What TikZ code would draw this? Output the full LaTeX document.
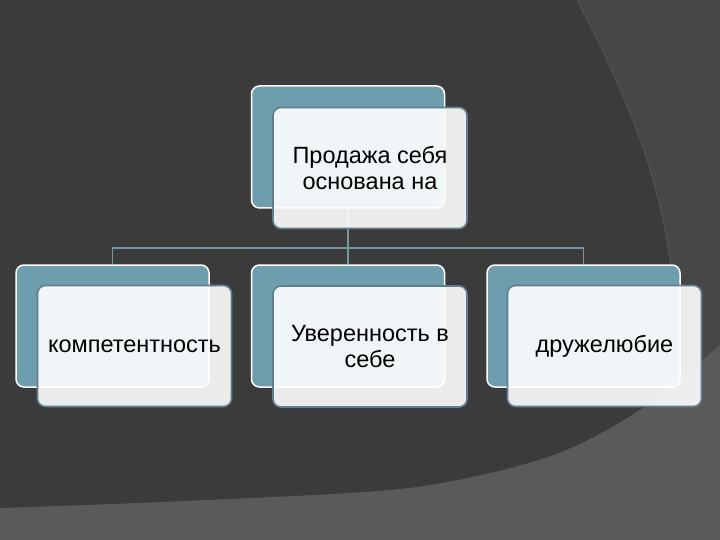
\documentclass[tikz,border=0pt]{standalone}
\usepackage{fontspec}
\setmainfont{Liberation Sans}
\usepackage{tikz}
\usetikzlibrary{positioning,calc}

\definecolor{slate}{HTML}{3B3B3B}
\definecolor{slateband}{HTML}{474747}
\definecolor{slateedge}{HTML}{515151}
\definecolor{slatelow}{HTML}{5A5A5A}
\definecolor{tealback}{HTML}{6E9DAE}
\definecolor{cardline}{HTML}{5F7F8E}
\definecolor{linkgray}{HTML}{7597A0}

\begin{document}
\begin{tikzpicture}[x=1pt, y=-1pt,
  back/.style={fill=tealback, draw=white, line width=1.5pt, rounded corners=8pt,
    minimum width=193pt, minimum height=122pt, inner sep=0pt},
  card/.style={fill=white, fill opacity=0.9, text opacity=1, draw=cardline,
    line width=1.6pt, rounded corners=8pt, minimum width=194pt,
    minimum height=121pt, inner sep=0pt, align=center,
    font=\fontsize{23.5}{26.5}\selectfont},
  link/.style={linkgray, line width=1.6pt}]
  \useasboundingbox (0,0) rectangle (720,540);

  % Slide background
  \fill[slate] (0,0) rectangle (720,540);
  \fill[slateband] (577,0) .. controls (640,120) and (672,210) .. (676,330)
      -- (682,540) -- (720,540) -- (720,0) -- cycle;
  \draw[slateedge, line width=1.2pt] (577,0) .. controls (640,120) and (672,210) .. (676,330)
      -- (682,540);
  \fill[slatelow] plot[smooth] coordinates {(0,508) (184,501) (409,488) (551,456) (643,408) (720,345)}
      -- (720,540) -- (0,540) -- cycle;

  % --- Back plates ---
  \node[back] (topback) at (348,147) {};
  \node[back] (leftback) at (112.5,326) {};
  \node[back] (midback) at (348,326) {};
  \node[back] (rightback) at (583.5,326) {};

  % Connectors
  \coordinate (split) at (348,248);
  \draw[link] (topback.south) -- (split);
  \draw[link] (leftback.north) |- (split) -| (rightback.north);
  \draw[link] (split) -- (midback.north);

  % --- Front cards ---
  \node[card] (topcard) at (370,168) {Продажа себя\\основана на};
  \node[card] (leftcard) at (134.5,346) {компетентность};
  \node[card] (midcard) at (370,346.5) {Уверенность в\\себе};
  \node[card] (rightcard) at (604.5,346) {дружелюбие};
\end{tikzpicture}
\end{document}
